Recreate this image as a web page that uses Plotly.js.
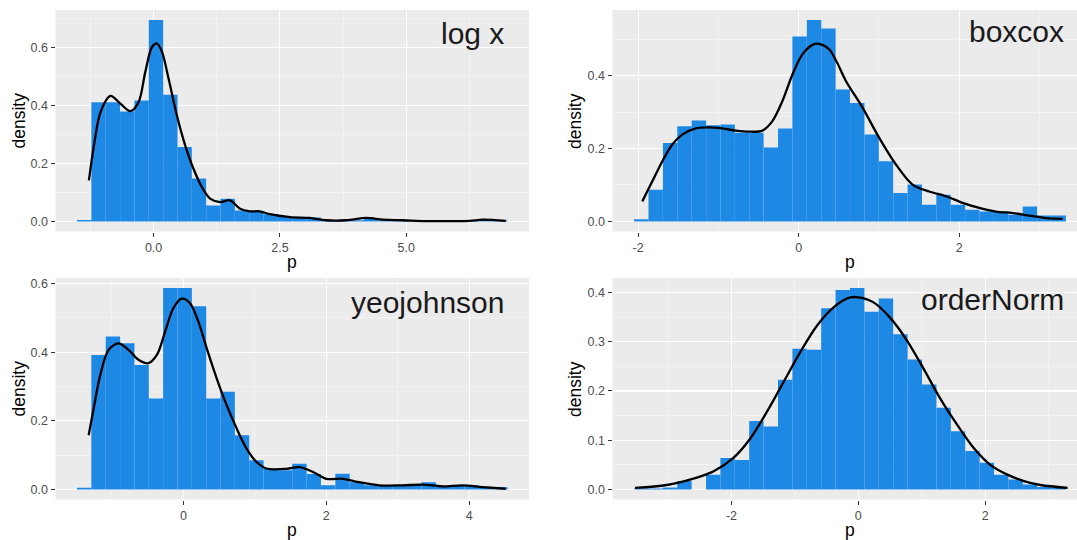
<!DOCTYPE html>
<html>
<head>
<meta charset="utf-8">
<script src="https://cdn.plot.ly/plotly-3.0.1.min.js"></script>
<style>html,body{margin:0;padding:0;background:#fff;}#chart{width:1077px;height:540px;}</style>
</head>
<body>
<div id="chart"></div>
<script>
// ---------- data ----------
// panel 1: log x
const logxBinCenters = [-1.373,-1.089,-0.805,-0.521,-0.237,0.047,0.331,0.614,0.898,1.182,1.466,1.750,2.034,2.318,2.602,2.886,3.169,3.453,3.737,4.021,4.305,4.589,4.873,5.157,5.441,5.724,6.008,6.292,6.576,6.860];
const logxBinWidth = 0.2839;
const logxDensity = [0.005,0.412,0.412,0.38,0.418,0.696,0.438,0.257,0.148,0.055,0.078,0.038,0.035,0.025,0.015,0.014,0.014,0.004,0.002,0.004,0.008,0.004,0.002,0.002,0.001,0.001,0.002,0.002,0.005,0.003];
const logxCurveX = [-1.28,-1.18,-1.05,-0.854,-0.657,-0.46,-0.296,-0.164,-0.032,0.067,0.166,0.296,0.46,0.625,0.789,0.954,1.118,1.316,1.513,1.71,1.907,2.1,2.3,2.7,3.09,3.42,3.81,4.21,4.54,4.93,5.39,5.85,6.25,6.51,6.97];
const logxCurveY = [0.142,0.263,0.378,0.434,0.407,0.381,0.413,0.517,0.603,0.615,0.586,0.494,0.367,0.263,0.182,0.119,0.079,0.067,0.073,0.044,0.035,0.035,0.025,0.015,0.012,0.004,0.004,0.012,0.006,0.004,0.001,0.001,0.002,0.006,0.002];

// panel 2: boxcox
const boxcoxBinCenters = [-1.960,-1.781,-1.601,-1.422,-1.243,-1.063,-0.884,-0.705,-0.526,-0.346,-0.167,0.012,0.192,0.371,0.550,0.730,0.909,1.088,1.268,1.447,1.626,1.805,1.985,2.164,2.343,2.523,2.702,2.881,3.061,3.240];
const boxcoxBinWidth = 0.1793;
const boxcoxDensity = [0.006,0.087,0.215,0.261,0.277,0.264,0.266,0.243,0.243,0.203,0.255,0.507,0.552,0.529,0.362,0.325,0.238,0.165,0.078,0.101,0.046,0.073,0.046,0.032,0.027,0.027,0.018,0.041,0.016,0.016];
const boxcoxCurveX = [-1.948,-1.823,-1.698,-1.574,-1.449,-1.282,-1.116,-0.95,-0.783,-0.617,-0.451,-0.327,-0.202,-0.077,0.047,0.172,0.256,0.38,0.48,0.589,0.796,1.004,1.212,1.419,1.627,1.835,2.042,2.25,2.459,2.666,2.874,3.082,3.289];
const boxcoxCurveY = [0.055,0.11,0.165,0.211,0.238,0.255,0.258,0.255,0.249,0.246,0.249,0.275,0.33,0.403,0.458,0.484,0.487,0.472,0.435,0.385,0.312,0.229,0.156,0.101,0.082,0.069,0.051,0.037,0.027,0.023,0.016,0.009,0.007];

// panel 3: yeojohnson
const yeoBinCenters = [-1.388,-1.187,-0.986,-0.785,-0.584,-0.384,-0.183,0.018,0.219,0.420,0.620,0.821,1.022,1.223,1.424,1.624,1.825,2.026,2.227,2.428,2.628,2.829,3.030,3.231,3.432,3.632,3.833,4.034,4.235,4.436];
const yeoBinWidth = 0.2008;
const yeoDensity = [0.005,0.392,0.446,0.426,0.363,0.265,0.587,0.587,0.534,0.265,0.285,0.158,0.085,0.061,0.056,0.075,0.045,0.012,0.046,0.021,0.012,0.012,0.01,0.012,0.021,0.008,0.012,0.012,0.008,0.006];
const yeoCurveX = [-1.325,-1.255,-1.162,-1.046,-0.907,-0.767,-0.628,-0.488,-0.371,-0.255,-0.139,-0.022,0.093,0.209,0.326,0.466,0.605,0.745,0.884,1.024,1.163,1.442,1.628,1.813,2.0,2.232,2.464,2.743,3.068,3.347,3.626,3.905,4.184,4.51];
const yeoCurveY = [0.158,0.236,0.334,0.407,0.426,0.407,0.378,0.368,0.392,0.46,0.529,0.556,0.543,0.49,0.412,0.324,0.246,0.178,0.119,0.08,0.061,0.06,0.065,0.051,0.031,0.031,0.021,0.012,0.012,0.014,0.009,0.012,0.007,0.002];

// panel 4: orderNorm
const onBinCenters = [-3.423,-3.196,-2.969,-2.742,-2.515,-2.288,-2.061,-1.834,-1.607,-1.380,-1.153,-0.926,-0.699,-0.472,-0.245,-0.018,0.209,0.436,0.664,0.891,1.118,1.345,1.572,1.799,2.026,2.253,2.480,2.707,2.934,3.161];
const onBinWidth = 0.227;
const onDensity = [0.002,0.002,0.004,0.017,0.0,0.03,0.064,0.06,0.139,0.128,0.223,0.286,0.284,0.368,0.405,0.409,0.361,0.388,0.315,0.264,0.213,0.166,0.118,0.078,0.054,0.03,0.02,0.01,0.005,0.003];
const onCurveX = [-3.52,-3.02,-2.60,-2.28,-1.97,-1.70,-1.44,-1.18,-0.915,-0.65,-0.39,-0.126,0.005,0.24,0.50,0.77,1.03,1.29,1.56,1.82,2.08,2.35,2.61,2.87,3.30];
const onCurveY = [0.003,0.009,0.022,0.037,0.064,0.104,0.158,0.218,0.279,0.333,0.37,0.39,0.39,0.38,0.349,0.302,0.245,0.185,0.131,0.084,0.05,0.030,0.017,0.009,0.003];

const panelLabels = ['log x','boxcox','yeojohnson','orderNorm'];

// ---------- styling / layout ----------
const W = 1077, H = 540;
const BAR = '#1E88E5';
const dx = (a,b) => [a/W, Math.min(1, b/W)];
const dy = (top,bottom) => [1-bottom/H, 1-top/H];

function barTrace(x, y, w, xa, ya){
  return {type:'bar', x:x, y:y, width:w, xaxis:xa, yaxis:ya,
          marker:{color:BAR, line:{width:0}}, hoverinfo:'skip', showlegend:false};
}
function lineTrace(x, y, xa, ya){
  return {type:'scatter', mode:'lines', x:x, y:y, xaxis:xa, yaxis:ya,
          line:{color:'#000', width:2.3, shape:'spline', smoothing:0.9},
          hoverinfo:'skip', showlegend:false};
}
const data = [
  barTrace(logxBinCenters, logxDensity, logxBinWidth, 'x','y'),
  lineTrace(logxCurveX, logxCurveY, 'x','y'),
  barTrace(boxcoxBinCenters, boxcoxDensity, boxcoxBinWidth, 'x2','y2'),
  lineTrace(boxcoxCurveX, boxcoxCurveY, 'x2','y2'),
  barTrace(yeoBinCenters, yeoDensity, yeoBinWidth, 'x3','y3'),
  lineTrace(yeoCurveX, yeoCurveY, 'x3','y3'),
  barTrace(onBinCenters, onDensity, onBinWidth, 'x4','y4'),
  lineTrace(onCurveX, onCurveY, 'x4','y4')
];

const tickFont = {family:'Liberation Sans, Arial, sans-serif', size:12.5, color:'#4D4D4D'};
function axis(extra){
  return Object.assign({
    showline:false, zeroline:false, showgrid:true, gridcolor:'#FFFFFF', gridwidth:1.1,
    ticks:'outside', ticklen:4, tickwidth:1, tickcolor:'#333333', tickfont:tickFont,
    tickmode:'array', fixedrange:true
  }, extra);
}
function minor(vals){
  return {tickmode:'array', tickvals:vals, showgrid:true, gridcolor:'#F6F6F6', gridwidth:0.6, ticks:''};
}

const layout = {
  width:W, height:H, margin:{l:0,r:0,t:0,b:0},
  paper_bgcolor:'#FFFFFF', plot_bgcolor:'#EBEBEB', showlegend:false,
  font:{family:'Liberation Sans, Arial, sans-serif'},
  xaxis: axis({domain:dx(55.5,529), anchor:'y', range:[-1.941,7.428], tickvals:[0,2.5,5], ticktext:['0.0','2.5','5.0'], minor:minor([-1.25,1.25,3.75,6.25])}),
  yaxis: axis({domain:dy(10,231.5), anchor:'x', range:[-0.0348,0.7308], tickvals:[0,0.2,0.4,0.6], ticktext:['0.0','0.2','0.4','0.6'], minor:minor([0.1,0.3,0.5,0.7])}),
  xaxis2: axis({domain:dx(612.5,1077), anchor:'y2', range:[-2.319,3.468], tickvals:[-2,0,2], ticktext:['-2','0','2'], minor:minor([-1,1,3])}),
  yaxis2: axis({domain:dy(10,231.5), anchor:'x2', range:[-0.0276,0.5796], tickvals:[0,0.2,0.4], ticktext:['0.0','0.2','0.4'], minor:minor([0.1,0.3,0.5])}),
  xaxis3: axis({domain:dx(55.5,529), anchor:'y3', range:[-1.789,4.836], tickvals:[0,2,4], ticktext:['0','2','4'], minor:minor([-1,1,3])}),
  yaxis3: axis({domain:dy(278,499.5), anchor:'x3', range:[-0.02935,0.6164], tickvals:[0,0.2,0.4,0.6], ticktext:['0.0','0.2','0.4','0.6'], minor:minor([0.1,0.3,0.5])}),
  xaxis4: axis({domain:dx(612.5,1077), anchor:'y4', range:[-3.876,3.448], tickvals:[-2,0,2], ticktext:['-2','0','2'], minor:minor([-3,-1,1,3])}),
  yaxis4: axis({domain:dy(278,499.5), anchor:'x4', range:[-0.02045,0.4295], tickvals:[0,0.1,0.2,0.3,0.4], ticktext:['0.0','0.1','0.2','0.3','0.4'], minor:minor([0.05,0.15,0.25,0.35])}),
  annotations: []
};

const titleFont = {family:'Liberation Sans, Arial, sans-serif', size:17.5, color:'#000'};
function axTitle(text, px, py, angle){
  return {text:text, xref:'paper', yref:'paper', x:px/W, y:1-py/H, showarrow:false,
          xanchor:'center', yanchor:'middle', textangle:angle||0, font:titleFont};
}
layout.annotations.push(
  axTitle('density', 18.5, 121, -90), axTitle('p', 292.25, 262, 0),
  axTitle('density', 575, 121, -90), axTitle('p', 850, 262, 0),
  axTitle('density', 18.5, 389, -90), axTitle('p', 292.25, 530, 0),
  axTitle('density', 575, 389, -90), axTitle('p', 850, 530, 0)
);

const labelFont = {family:'Liberation Sans, Arial, sans-serif', size:30, color:'#1A1A1A'};
const labelPos = [ ['x','y',6.97,0.65], ['x2','y2',3.327,0.52], ['x3','y3',4.51,0.545], ['x4','y4',3.27,0.385] ];
labelPos.forEach((p,i) => {
  layout.annotations.push({text:panelLabels[i], xref:p[0], yref:p[1], x:p[2], y:p[3],
    xanchor:'right', yanchor:'middle', showarrow:false, font:labelFont});
});

Plotly.newPlot('chart', data, layout, {staticPlot:true, displayModeBar:false});
</script>
</body>
</html>
